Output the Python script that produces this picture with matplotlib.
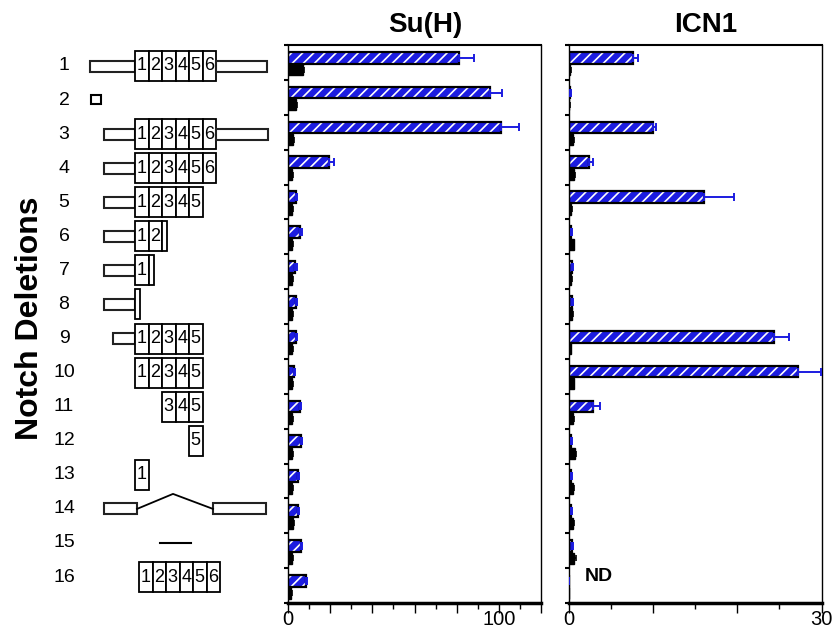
import matplotlib
matplotlib.use("Agg")
import matplotlib.pyplot as plt
from matplotlib.patches import Rectangle
from matplotlib.ticker import MultipleLocator, FixedLocator
import numpy as np

plt.rcParams['font.family'] = ['Liberation Sans', 'DejaVu Sans']
plt.rcParams['hatch.linewidth'] = 1.2

# ---------------- data ----------------
rows = list(range(1, 17))
row_labels = [str(r) for r in rows]

suh_blue = [81, 96, 101, 19.5, 3.9, 5.8, 3.2, 3.6, 3.6, 2.7, 5.7, 6.2, 4.7, 4.7, 6.2, 8.5]
suh_blue_err = [7, 5.5, 8.6, 2.4, 0.6, 0.8, 0.9, 0.5, 0.5, 0.6, 0.7, 0.4, 0.4, 0.4, 0.4, 0.4]
suh_black = [7.0, 3.7, 2.3, 2.0, 2.0, 2.0, 1.8, 1.8, 1.8, 1.8, 2.0, 2.0, 2.0, 2.5, 1.8, 1.5]
suh_black_err = [0.7, 0.8, 0.4, 0.4, 0.4, 0.4, 0.4, 0.4, 0.4, 0.4, 0.4, 0.4, 0.4, 0.4, 0.4, 0.4]

icn_blue = [7.6, 0.15, 10.0, 2.4, 16.1, 0.35, 0.4, 0.4, 24.4, 27.2, 2.85, 0.3, 0.3, 0.3, 0.4, 0.05]
icn_blue_err = [0.6, 0.1, 0.4, 0.45, 3.5, 0.1, 0.1, 0.1, 1.8, 2.7, 0.85, 0.1, 0.1, 0.1, 0.1, 0.0]
icn_black = [0.2, 0.1, 0.5, 0.65, 0.3, 0.6, 0.3, 0.4, 0.3, 0.6, 0.5, 0.8, 0.5, 0.5, 0.6, 0.0]
icn_black_err = [0.1, 0.05, 0.1, 0.1, 0.1, 0.1, 0.1, 0.1, 0.05, 0.1, 0.1, 0.1, 0.1, 0.1, 0.3, 0.0]

# construct schematics: (left flank, EGF boxes, partial box, right flank, kind)
constructs = [
    dict(left='long', boxes=[1, 2, 3, 4, 5, 6], partial=None, right=True),
    dict(kind='square'),
    dict(left='std', boxes=[1, 2, 3, 4, 5, 6], partial=None, right=True),
    dict(left='std', boxes=[1, 2, 3, 4, 5, 6], partial=None, right=False),
    dict(left='std', boxes=[1, 2, 3, 4, 5], partial=None, right=False),
    dict(left='std', boxes=[1, 2], partial=3, right=False),
    dict(left='std', boxes=[1], partial=2, right=False),
    dict(left='std', boxes=[], partial=1, right=False),
    dict(left='short', boxes=[1, 2, 3, 4, 5], partial=None, right=False),
    dict(left=None, boxes=[1, 2, 3, 4, 5], partial=None, right=False),
    dict(left=None, boxes=[3, 4, 5], partial=None, right=False),
    dict(left=None, boxes=[5], partial=None, right=False),
    dict(left=None, boxes=[1], partial=None, right=False),
    dict(kind='splice'),
    dict(kind='line'),
    dict(left=None, boxes=[1, 2, 3, 4, 5, 6], partial=None, right=False, shift=4),
]

# ---------------- figure ----------------
W, H = 838, 634
fig = plt.figure(figsize=(W / 100, H / 100), dpi=100)

BLUE = '#1c1ce0'


def frac(x0, y0, x1, y1):
    return [x0 / W, 1 - y1 / H, (x1 - x0) / W, (y1 - y0) / H]


def bar_panel(ax, blue, blue_err, black, black_err, xmax, major, minor, lab):
    y = np.arange(len(blue))
    yb = y + 0.364
    yk = y + 0.714
    ax.barh(yb, blue, height=0.34, color=BLUE, edgecolor='white', hatch='///', linewidth=0, zorder=2)
    ax.barh(yb, blue, height=0.34, fill=False, edgecolor='black', linewidth=1.6, zorder=3)
    ax.errorbar(blue, yb, xerr=[np.zeros(len(blue)), blue_err], fmt='none', ecolor=BLUE,
                elinewidth=1.4, capsize=3, capthick=1.4, zorder=4)
    ax.barh(yk, black, height=0.32, color='black', edgecolor='black', linewidth=1.0, zorder=2)
    ax.errorbar(black, yk, xerr=[np.zeros(len(black)), black_err], fmt='none', ecolor='black',
                elinewidth=1.2, capsize=2, capthick=1.2, zorder=4)
    ax.set_ylim(len(blue), 0)
    ax.set_xlim(0, xmax)
    ax.yaxis.set_major_locator(FixedLocator(np.arange(0, len(blue) + 1)))
    ax.tick_params(axis='y', length=3, width=1.5, direction='out', labelleft=False)
    ax.xaxis.set_minor_locator(MultipleLocator(minor))
    ticks = np.arange(0, xmax + major / 2, major)
    ax.set_xticks(ticks)
    ax.set_xticklabels([str(int(t)) if t in lab else '' for t in ticks], fontsize=14.5)
    ax.tick_params(axis='x', which='major', length=7, width=1.0, direction='out', pad=-2)
    ax.tick_params(axis='x', which='minor', length=4, width=1.0, direction='out')
    ax.spines['bottom'].set_linewidth(2.5)
    ax.spines['top'].set_linewidth(1.5)
    ax.spines['left'].set_linewidth(1.0)
    ax.spines['right'].set_linewidth(1.0)


ax1 = fig.add_axes(frac(288, 45, 541, 603))
bar_panel(ax1, suh_blue, suh_blue_err, suh_black, suh_black_err, 120, 20, 10, [0, 100])
ax2 = fig.add_axes(frac(568.5, 45, 821.5, 603))
bar_panel(ax2, icn_blue, icn_blue_err, icn_black, icn_black_err, 30, 10, 5, [0, 30])
ax2.text(1.9, 15.25, 'ND', fontsize=14, fontweight='bold', ha='left', va='center')

fig.text(425 / W, 1 - 25 / H, 'Su(H)', fontsize=20, fontweight='bold', ha='center', va='center')
fig.text(706 / W, 1 - 25 / H, 'ICN1', fontsize=20, fontweight='bold', ha='center', va='center')
fig.text(30 / W, 1 - 318 / H, 'Notch Deletions', fontsize=23, fontweight='bold',
         rotation=90, ha='center', va='center')

# ---------------- schematic ----------------
axd = fig.add_axes([0, 0, 1, 1], zorder=-1)
axd.set_xlim(0, W)
axd.set_ylim(H, 0)
axd.axis('off')

BOX_X0, BOX_W, BOX_H, FL_H = 135, 13.5, 30, 11
ROW_Y0, ROW_DY = 66, 34.07


def flank(x0, x1, yc):
    axd.add_patch(Rectangle((x0, yc - FL_H / 2), x1 - x0, FL_H, facecolor='white',
                            edgecolor='#222222', linewidth=1.5))


for i, c in enumerate(constructs):
    yc = ROW_Y0 + ROW_DY * i
    fig.text(64 / W, 1 - yc / H, row_labels[i], fontsize=14, ha='center', va='center')
    kind = c.get('kind')
    if kind == 'square':
        axd.add_patch(Rectangle((91, yc - 5), 10, 9, facecolor='white', edgecolor='black', linewidth=1.5))
        continue
    if kind == 'splice':
        flank(104, 137, yc)
        flank(213, 266, yc)
        axd.plot([137, 173, 213], [yc, yc - 15, yc], color='black', lw=1.3)
        continue
    if kind == 'line':
        axd.plot([160, 191], [yc, yc], color='black', lw=1.5)
        continue
    shift = c.get('shift', 0)
    bx0 = BOX_X0 + shift
    if c['left'] == 'long':
        flank(90, bx0, yc)
    elif c['left'] == 'std':
        flank(104, bx0, yc)
    elif c['left'] == 'short':
        flank(113, bx0, yc)
    for b in c['boxes']:
        x = bx0 + (b - 1) * BOX_W
        axd.add_patch(Rectangle((x, yc - BOX_H / 2), BOX_W, BOX_H, facecolor='white',
                                edgecolor='black', linewidth=1.3))
        axd.text(x + BOX_W / 2, yc, str(b), fontsize=13, ha='center', va='center')
    last = max(c['boxes']) if c['boxes'] else 0
    if c['partial'] is not None:
        x = bx0 + (c['partial'] - 1) * BOX_W
        axd.add_patch(Rectangle((x, yc - BOX_H / 2), 5, BOX_H, facecolor='white',
                                edgecolor='black', linewidth=1.3))
    if c['right']:
        xr = bx0 + last * BOX_W
        flank(xr, xr + (51 if c['left'] == 'long' else 52), yc)

fig.savefig('out.png', dpi=100)
